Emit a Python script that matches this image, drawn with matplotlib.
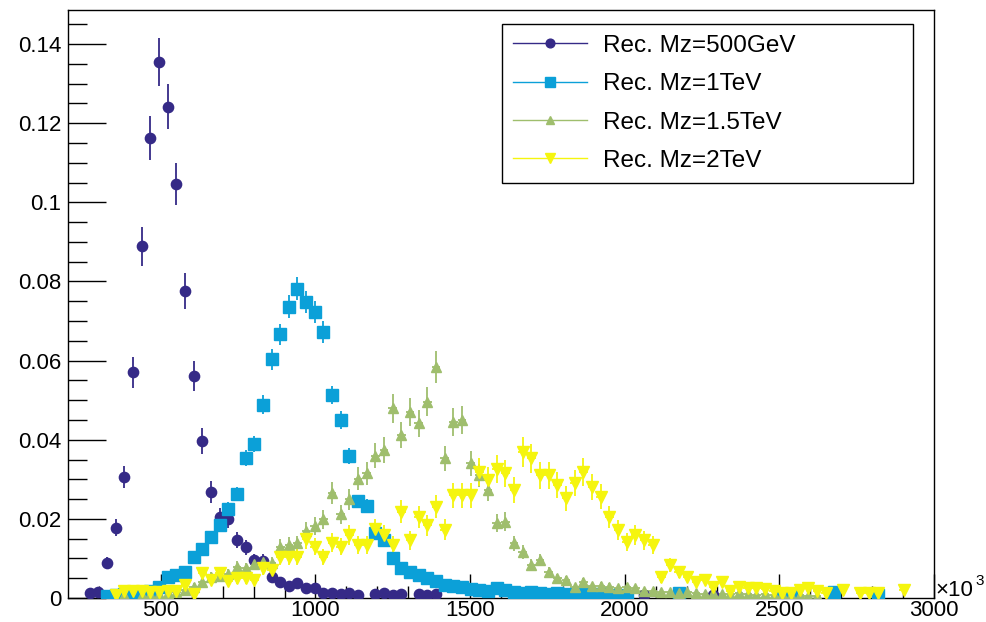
import numpy as np
import matplotlib
matplotlib.use("Agg")
import matplotlib.pyplot as plt
from matplotlib.lines import Line2D

plt.rcParams['font.family'] = ['Liberation Sans', 'DejaVu Sans']

# ---------------- data ----------------
x_low, x_high, n_bins = 200, 3000, 100

m500 = [0, 0, 0.0012, 0.0016, 0.0088, 0.0178, 0.0306, 0.0571, 0.0889, 0.1163,
        0.1355, 0.1242, 0.1046, 0.0775, 0.0561, 0.0396, 0.0268, 0.0204, 0.0199, 0.0146,
        0.0128, 0.0096, 0.0094, 0.0054, 0.0041, 0.0030, 0.0037, 0.0025, 0.0025, 0.0012,
        0.0012, 0.0010, 0.0012, 0.0008, 0, 0.0010, 0.0012, 0.0008, 0.0010, 0,
        0.0010, 0.0008, 0.0010, 0, 0, 0, 0, 0, 0, 0,
        0, 0, 0, 0, 0, 0, 0, 0, 0, 0,
        0, 0, 0, 0, 0, 0, 0.0008, 0, 0, 0,
        0, 0, 0, 0, 0.0008, 0, 0, 0, 0, 0,
        0, 0, 0, 0, 0, 0, 0, 0, 0, 0,
        0, 0, 0, 0, 0, 0, 0, 0, 0, 0]

m1000 = [0, 0, 0, 0, 0.0004, 0.0008, 0.0010, 0.0010, 0.0012, 0.0018,
         0.0029, 0.0054, 0.0058, 0.0066, 0.0104, 0.0125, 0.0155, 0.0184, 0.0226, 0.0263,
         0.0353, 0.0389, 0.0489, 0.0603, 0.0666, 0.0736, 0.0782, 0.0748, 0.0723, 0.0672,
         0.0513, 0.0449, 0.0359, 0.0245, 0.0233, 0.0165, 0.0146, 0.0100, 0.0075, 0.0066,
         0.0058, 0.0050, 0.0042, 0.0034, 0.0030, 0.0027, 0.0024, 0.0020, 0.0018, 0.0025,
         0.0020, 0.0015, 0.0012, 0.0015, 0.0012, 0.0010, 0.0012, 0.0010, 0.0008, 0.0012,
         0.0008, 0.0010, 0.0006, 0.0008, 0.0004, 0, 0, 0, 0, 0,
         0.0012, 0, 0, 0, 0, 0, 0, 0, 0, 0,
         0, 0, 0.0006, 0.0006, 0, 0, 0, 0, 0.0015, 0,
         0, 0, 0, 0.0008, 0, 0, 0, 0, 0, 0]

m1500 = [0, 0, 0, 0, 0, 0, 0.0008, 0, 0.0008, 0.0010,
         0.0010, 0.0012, 0.0015, 0.0020, 0.0029, 0.0040, 0.0054, 0.0055, 0.0060, 0.0079,
         0.0075, 0.0085, 0.0090, 0.0088, 0.0130, 0.0134, 0.0138, 0.0170, 0.0182, 0.0199,
         0.0266, 0.0212, 0.0250, 0.0302, 0.0315, 0.0360, 0.0374, 0.0479, 0.0412, 0.0470,
         0.0441, 0.0496, 0.0584, 0.0353, 0.0445, 0.0450, 0.0340, 0.0310, 0.0273, 0.0189,
         0.0193, 0.0138, 0.0117, 0.0083, 0.0096, 0.0066, 0.0050, 0.0045, 0.0027, 0.0041,
         0.0030, 0.0031, 0.0028, 0.0025, 0.0029, 0.0025, 0.0018, 0.0018, 0.0015, 0.0015,
         0.0012, 0.0015, 0.0012, 0.0010, 0.0012, 0.0010, 0.0010, 0.0012, 0.0010, 0.0008,
         0.0010, 0.0008, 0.0010, 0.0008, 0.0008, 0.0006, 0.0006, 0, 0, 0,
         0, 0, 0, 0, 0, 0, 0, 0, 0, 0]

m2000 = [0, 0, 0, 0, 0, 0.0008, 0.0017, 0.0017, 0.0017, 0.0015,
         0.0015, 0.0017, 0.0017, 0.0033, 0.0010, 0.0062, 0.0045, 0.0062, 0.0042, 0.0050,
         0.0050, 0.0045, 0.0075, 0.0070, 0.0104, 0.0104, 0.0104, 0.0148, 0.0130, 0.0104,
         0.0140, 0.0130, 0.0159, 0.0134, 0.0134, 0.0174, 0.0159, 0.0134, 0.0218, 0.0146,
         0.0205, 0.0184, 0.0231, 0.0173, 0.0260, 0.0260, 0.0260, 0.0319, 0.0298, 0.0327,
         0.0315, 0.0273, 0.0369, 0.0353, 0.0310, 0.0310, 0.0285, 0.0252, 0.0290, 0.0319,
         0.0281, 0.0256, 0.0205, 0.0172, 0.0142, 0.0159, 0.0146, 0.0134, 0.0052, 0.0083,
         0.0066, 0.0054, 0.0041, 0.0045, 0.0029, 0.0041, 0.0018, 0.0029, 0.0025, 0.0025,
         0.0024, 0.0018, 0.0012, 0.0012, 0.0020, 0.0025, 0.0018, 0.0012, 0, 0.0020,
         0, 0.0012, 0.0012, 0.0012, 0, 0, 0.0020, 0, 0, 0]

# effective number of entries per sample (sets the statistical error bars)
n_entries = [3700, 9000, 3600, 2600]

labels = ["Rec. Mz=500GeV", "Rec. Mz=1TeV", "Rec. Mz=1.5TeV", "Rec. Mz=2TeV"]
colors = ["#352a87", "#0ba0d8", "#9fbe6d", "#f5f50e"]
markers = ["o", "s", "^", "v"]
msizes = [7.4, 8.4, 7.2, 9.2]

x_ticks = [500, 1000, 1500, 2000, 2500, 3000]
y_ticks = [0, 0.02, 0.04, 0.06, 0.08, 0.10, 0.12, 0.14]
y_ticklabels = ["0", "0.02", "0.04", "0.06", "0.08", "0.1", "0.12", "0.14"]
y_max = 0.1486

# ---------------- figure ----------------
W, H = 986, 622
fig = plt.figure(figsize=(W / 100, H / 100), dpi=100)
ax_l, ax_r, ax_t, ax_b = 68, 934, 10, 598
ax = fig.add_axes([ax_l / W, 1 - ax_b / H, (ax_r - ax_l) / W, (ax_b - ax_t) / H])

edges = np.linspace(x_low, x_high, n_bins + 1)
centers = 0.5 * (edges[:-1] + edges[1:])
half_w = 0.5 * (edges[1] - edges[0])

handles = []
for vals, n, lab, c, mk, ms in zip([m500, m1000, m1500, m2000], n_entries,
                                   labels, colors, markers, msizes):
    v = np.asarray(vals, dtype=float)
    keep = v > 0
    err = np.sqrt(v / n)
    ax.errorbar(centers[keep], v[keep], yerr=err[keep], xerr=half_w,
                fmt=mk, color=c, ms=ms, mec=c, mfc=c, elinewidth=1.3,
                capsize=0, zorder=3)
    handles.append(Line2D([], [], color=c, lw=1.0, marker=mk,
                          ms=ms * 0.85, mfc=c, mec=c))

ax.set_xlim(x_low, x_high)
ax.set_ylim(0, y_max)

ax.set_xticks(x_ticks)
ax.set_xticklabels([str(t) for t in x_ticks])
ax.set_xticks(np.arange(300, 3000, 100), minor=True)
ax.set_yticks(y_ticks)
ax.set_yticklabels(y_ticklabels)
ax.set_yticks(np.arange(0.005, 0.1486, 0.005), minor=True)

ax.tick_params(axis='both', which='both', direction='in', top=False, right=False,
               labelsize=16, colors='black', width=1.0)
ax.tick_params(axis='x', which='major', length=17, pad=1.5)
ax.tick_params(axis='x', which='minor', length=9)
ax.tick_params(axis='y', which='major', length=27, pad=5)
ax.tick_params(axis='y', which='minor', length=14)
for s in ax.spines.values():
    s.set_linewidth(1.0)
    s.set_color('black')

# legend box
leg = ax.legend(handles, labels, loc='upper left',
                bbox_to_anchor=((501.7 - ax_l) / (ax_r - ax_l),
                                (ax_b - 180) / (ax_b - ax_t),
                                (913.3 - 501.7) / (ax_r - ax_l),
                                (180 - 24) / (ax_b - ax_t)),
                mode='expand', fontsize=17.5, frameon=True, fancybox=False,
                edgecolor='black', framealpha=1, borderpad=0.45,
                handlelength=3.05, handletextpad=0.66, labelspacing=0.67,
                borderaxespad=0)
leg.get_frame().set_linewidth(1.0)

# axis multiplier
fig.text(935.5 / W, 1 - 591 / H, "\u00d710", fontsize=16, ha='left', va='center')
fig.text(975 / W, 1 - 581 / H, "3", fontsize=11, ha='left', va='center')

fig.savefig("out.png", dpi=100)
